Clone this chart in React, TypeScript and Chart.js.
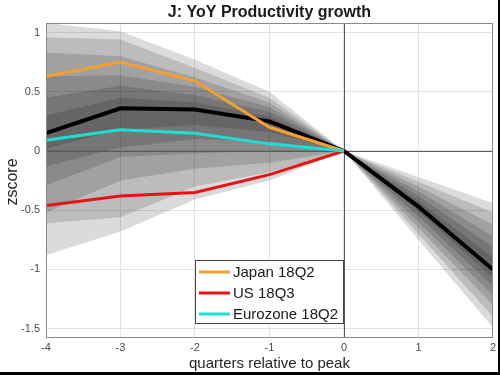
import React, { useEffect, useRef } from "react";
import { Chart, registerables } from "chart.js";

Chart.register(...registerables);

const quarters = [-4, -3, -2, -1, 0, 1, 2];
const median = [0.15, 0.36, 0.35, 0.25, 0, -0.47, -1.0];
const japan = [0.63, 0.75, 0.59, 0.2, 0];
const us = [-0.46, -0.38, -0.35, -0.2, 0];
const eurozone = [0.09, 0.18, 0.15, 0.06, 0];

// fan bands, outer to inner
const upper1 = [1.08, 1.01, 0.77, 0.5, 0, -0.22, -0.44];
const upper2 = [0.96, 0.94, 0.7, 0.45, 0, -0.26, -0.52];
const upper3 = [0.83, 0.8, 0.62, 0.41, 0, -0.3, -0.62];
const upper4 = [0.63, 0.64, 0.54, 0.37, 0, -0.34, -0.72];
const upper5 = [0.45, 0.55, 0.47, 0.33, 0, -0.38, -0.81];
const upper6 = [0.3, 0.45, 0.41, 0.29, 0, -0.42, -0.9];
const lower1 = [-0.88, -0.68, -0.41, -0.25, 0, -0.75, -1.49];
const lower2 = [-0.61, -0.56, -0.3, -0.18, 0, -0.7, -1.4];
const lower3 = [-0.52, -0.25, -0.15, -0.1, 0, -0.65, -1.3];
const lower4 = [-0.29, -0.05, -0.02, 0.0, 0, -0.6, -1.22];
const lower5 = [-0.13, 0.03, 0.1, 0.08, 0, -0.55, -1.14];
const lower6 = [0.02, 0.18, 0.22, 0.16, 0, -0.51, -1.07];

const xTicks = [-4, -3, -2, -1, 0, 1, 2];
const yTicks = [-1.5, -1, -0.5, 0, 0.5, 1];

const legendItems = [
  { label: "Japan 18Q2", color: "rgb(242,160,50)" },
  { label: "US 18Q3", color: "rgb(232,20,20)" },
  { label: "Eurozone 18Q2", color: "rgb(30,222,212)" },
];

const pts = (vals: number[]) => vals.map((v, i) => ({ x: quarters[i], y: v }));

export default function App() {
  const ref = useRef<HTMLCanvasElement>(null);
  useEffect(() => {
    document.body.style.margin = "0";
    const bandPairs = [
      [upper1, lower1],
      [upper2, lower2],
      [upper3, lower3],
      [upper4, lower4],
      [upper5, lower5],
      [upper6, lower6],
    ];
    const datasets: any[] = [];
    bandPairs.forEach(([u, l]) => {
      datasets.push({
        data: pts(u),
        borderWidth: 0,
        pointRadius: 0,
        fill: "+1",
        backgroundColor: "rgba(0,0,0,0.14)",
        borderColor: "rgba(0,0,0,0)",
        order: 10,
      });
      datasets.push({
        data: pts(l),
        borderWidth: 0,
        pointRadius: 0,
        fill: false,
        borderColor: "rgba(0,0,0,0)",
        order: 10,
      });
    });
    datasets.push({ data: pts(median), borderColor: "#000", borderWidth: 4, pointRadius: 0, fill: false, order: 4 });
    datasets.push({ data: pts(japan), borderColor: legendItems[0].color, borderWidth: 3, pointRadius: 0, fill: false, order: 3 });
    datasets.push({ data: pts(us), borderColor: legendItems[1].color, borderWidth: 3, pointRadius: 0, fill: false, order: 2 });
    datasets.push({ data: pts(eurozone), borderColor: legendItems[2].color, borderWidth: 3, pointRadius: 0, fill: false, order: 1 });

    const font = "'Liberation Sans', Arial, sans-serif";
    const deco = {
      id: "deco",
      beforeDatasetsDraw(chart: any) {
        const { ctx, chartArea: a, scales } = chart;
        ctx.save();
        ctx.strokeStyle = "#5a5a5a";
        ctx.lineWidth = 1;
        const y0 = Math.round(scales.y.getPixelForValue(0)) + 0.5;
        const x0 = Math.round(scales.x.getPixelForValue(0)) + 0.5;
        ctx.beginPath();
        ctx.moveTo(a.left, y0);
        ctx.lineTo(a.right, y0);
        ctx.moveTo(x0, a.top);
        ctx.lineTo(x0, a.bottom);
        ctx.stroke();
        ctx.restore();
      },
      afterDatasetsDraw(chart: any) {
        const { ctx, chartArea: a, scales } = chart;
        ctx.save();
        // frame
        ctx.strokeStyle = "#8a8a8a";
        ctx.lineWidth = 1;
        ctx.strokeRect(Math.round(a.left) + 0.5, Math.round(a.top) + 0.5, Math.round(a.right - a.left) - 1, Math.round(a.bottom - a.top));
        // legend
        const lx = scales.x.getPixelForValue(-2.0);
        const rx = scales.x.getPixelForValue(-0.01);
        const ty = scales.y.getPixelForValue(-0.92);
        const by = scales.y.getPixelForValue(-1.45);
        ctx.fillStyle = "#fff";
        ctx.fillRect(lx, ty, rx - lx, by - ty);
        ctx.strokeStyle = "#444";
        ctx.lineWidth = 1;
        ctx.strokeRect(Math.round(lx) + 0.5, Math.round(ty) + 0.5, Math.round(rx - lx), Math.round(by - ty));
        ctx.font = `15px ${font}`;
        ctx.textBaseline = "middle";
        ctx.textAlign = "left";
        legendItems.forEach((it, i) => {
          const yy = ty + 12 + i * 21;
          ctx.strokeStyle = it.color;
          ctx.lineWidth = 3;
          ctx.beginPath();
          ctx.moveTo(lx + 4, yy);
          ctx.lineTo(lx + 35, yy);
          ctx.stroke();
          ctx.fillStyle = "#1a1a1a";
          ctx.fillText(it.label, lx + 38, yy + 1);
        });
        ctx.restore();
      },
      afterDraw(chart: any) {
        const { ctx, chartArea: a } = chart;
        ctx.save();
        const cx = (a.left + a.right) / 2;
        ctx.fillStyle = "#1a1a1a";
        ctx.textAlign = "center";
        ctx.textBaseline = "middle";
        ctx.font = `bold 16px ${font}`;
        ctx.fillText("J: YoY Productivity growth", cx, 13);
        ctx.font = `15px ${font}`;
        ctx.fillStyle = "#262626";
        ctx.fillText("quarters relative to peak", cx, 364);
        ctx.font = `16px ${font}`;
        ctx.translate(13, (a.top + a.bottom) / 2 + 2);
        ctx.rotate(-Math.PI / 2);
        ctx.fillText("zscore", 0, 0);
        ctx.restore();
        ctx.save();
        ctx.fillStyle = "#000";
        ctx.fillRect(498, 0, 2, 375);
        ctx.fillRect(0, 372, 500, 3);
        ctx.restore();
      },
      beforeDraw(chart: any) {
        const { ctx } = chart;
        ctx.save();
        ctx.fillStyle = "#fff";
        ctx.fillRect(0, 0, chart.width, chart.height);
        ctx.restore();
      },
    };

    const chart = new Chart(ref.current as HTMLCanvasElement, {
      type: "line",
      data: { datasets },
      options: {
        animation: false,
        responsive: false,
        maintainAspectRatio: false,
        layout: { padding: { top: 23, right: 5, left: 0, bottom: 0 } },
        plugins: {
          legend: { display: false },
          tooltip: { enabled: false },
          filler: { drawTime: "beforeDatasetsDraw" },
        } as any,
        elements: { line: { tension: 0 } },
        scales: {
          x: {
            type: "linear",
            min: -4,
            max: 2,
            afterBuildTicks: (s: any) => {
              s.ticks = xTicks.map((v) => ({ value: v }));
            },
            afterFit: (s: any) => {
              s.height = 38;
            },
            grid: { color: "#e4e4e4", drawTicks: false },
            border: { display: false },
            ticks: {
              padding: 4,
              color: "#4a4a4a",
              font: { size: 11, family: font },
              callback: (v: any) => String(v),
            },
          },
          y: {
            type: "linear",
            min: -1.57,
            max: 1.08,
            afterBuildTicks: (s: any) => {
              s.ticks = yTicks.map((v) => ({ value: v }));
            },
            afterFit: (s: any) => {
              s.width = 46;
            },
            grid: { color: "#e4e4e4", drawTicks: false },
            border: { display: false },
            ticks: {
              padding: 6,
              color: "#4a4a4a",
              font: { size: 11, family: font },
              callback: (v: any) => String(v),
            },
          },
        },
      },
      plugins: [deco],
    });
    return () => chart.destroy();
  }, []);
  return (
    <div style={{ position: "fixed", left: 0, top: 0, width: 500, height: 375 }}>
      <canvas ref={ref} width={500} height={375} />
    </div>
  );
}
